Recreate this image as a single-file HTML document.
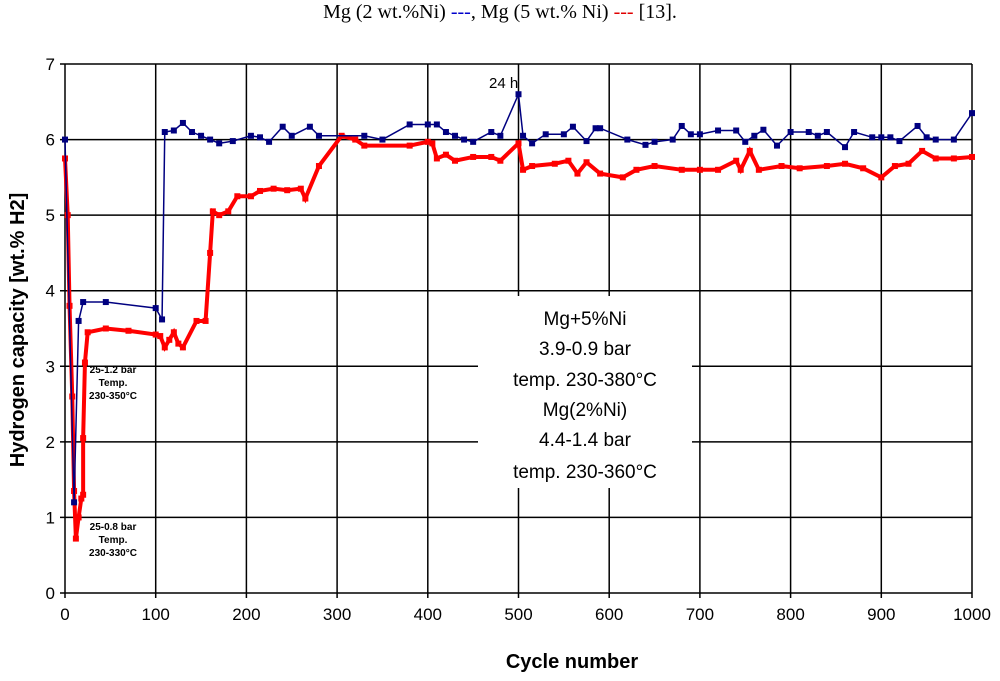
<!DOCTYPE html>
<html><head><meta charset="utf-8"><style>
body{margin:0;background:#fff;width:1000px;height:676px;overflow:hidden;font-family:"Liberation Sans",sans-serif}
</style></head><body>
<svg id="chart" width="1000" height="676" xmlns="http://www.w3.org/2000/svg">
<text x="500" y="18" text-anchor="middle" font-family="Liberation Serif,serif" font-size="20">Mg (2 wt.%Ni) <tspan fill="#0000cc">---</tspan>, Mg (5 wt.% Ni) <tspan fill="#e00000">---</tspan> [13].</text>
<g id="grid"></g>
<g id="series"></g>
<text x="489" y="88" font-size="15">24 h</text>
<g font-size="10" font-weight="bold" text-anchor="middle">
<text x="113" y="373">25-1.2 bar</text><text x="113" y="386">Temp.</text><text x="113" y="399">230-350°C</text></g>
<g font-size="10" font-weight="bold" text-anchor="middle">
<text x="113" y="530">25-0.8 bar</text><text x="113" y="543">Temp.</text><text x="113" y="556">230-330°C</text></g>
<rect x="478" y="296" width="214" height="192" fill="#fff"/>
<g font-size="19" text-anchor="middle">
<text x="585" y="325">Mg+5%Ni</text><text x="585" y="355">3.9-0.9 bar</text><text x="585" y="386">temp. 230-380°C</text>
<text x="585" y="416">Mg(2%Ni)</text><text x="585" y="446">4.4-1.4 bar</text><text x="585" y="478">temp. 230-360°C</text></g>
<text x="572" y="668" text-anchor="middle" font-size="20" font-weight="bold">Cycle number</text>
<text transform="translate(24,330) rotate(-90)" text-anchor="middle" font-size="20" font-weight="bold">Hydrogen capacity [wt.% H2]</text>
</svg>
<script>
const xTicks=[0,100,200,300,400,500,600,700,800,900,1000];
const yTicks=[0,1,2,3,4,5,6,7];
const blueX=[0,10,15,20,45,100,107,110,120,130,140,150,160,170,185,205,215,225,240,250,270,280,330,350,380,400,410,420,430,440,450,470,480,500,505,515,530,550,560,575,585,590,620,640,650,670,680,690,700,720,740,750,760,770,785,800,820,830,840,860,870,890,900,910,920,940,950,960,980,1000];
const blueY=[6.0,1.2,3.6,3.85,3.85,3.77,3.62,6.1,6.12,6.22,6.1,6.05,6.0,5.95,5.98,6.05,6.03,5.97,6.17,6.05,6.17,6.05,6.05,6.0,6.2,6.2,6.2,6.1,6.05,6.0,5.97,6.1,6.05,6.6,6.05,5.95,6.07,6.07,6.17,5.98,6.15,6.15,6.0,5.93,5.97,6.0,6.18,6.07,6.07,6.12,6.12,5.97,6.05,6.13,5.92,6.1,6.1,6.05,6.1,5.9,6.1,6.03,6.03,6.03,5.98,6.18,6.03,6.0,6.0,6.35];
const redX=[0,3,5,8,10,12,15,18,20,20,22,25,45,70,100,105,110,115,120,125,130,145,155,160,163,170,180,190,205,215,230,245,260,265,280,305,320,330,380,400,405,410,420,430,450,470,480,500,505,515,540,555,565,575,590,615,630,650,680,700,720,740,745,755,765,790,810,840,860,880,900,915,930,945,960,980,1000];
const redY=[5.75,5.0,3.8,2.6,1.35,0.72,1.0,1.25,1.3,2.05,3.05,3.45,3.5,3.47,3.42,3.4,3.25,3.35,3.45,3.3,3.25,3.6,3.6,4.5,5.05,5.0,5.05,5.25,5.25,5.32,5.35,5.33,5.35,5.22,5.65,6.05,6.0,5.92,5.92,5.97,5.95,5.75,5.8,5.72,5.77,5.77,5.72,5.95,5.6,5.65,5.68,5.72,5.55,5.7,5.55,5.5,5.6,5.65,5.6,5.6,5.6,5.72,5.6,5.85,5.6,5.65,5.62,5.65,5.68,5.62,5.5,5.65,5.68,5.85,5.75,5.75,5.77];
const X0=65,X1=972,Y0=593,Y1=64;
function sx(v){return X0+(X1-X0)*v/1000;}
function sy(v){return Y0-(Y0-Y1)*v/7;}
const NS="http://www.w3.org/2000/svg";
function mk(t,a,p){const e=document.createElementNS(NS,t);for(const k in a)e.setAttribute(k,a[k]);p.appendChild(e);return e;}
const grid=document.getElementById('grid');
xTicks.forEach(t=>{
  const l=mk('line',{x1:sx(t),x2:sx(t),y1:Y1,y2:Y0+5,stroke:'#000','stroke-width':1.5},grid);
  
  
  const tx=mk('text',{x:sx(t),y:Y0+27,'text-anchor':'middle','font-size':17},grid);
  tx.textContent=t;
  
  
});
yTicks.forEach(t=>{
  const l=mk('line',{x1:X0-5,x2:X1,y1:sy(t),y2:sy(t),stroke:'#000','stroke-width':1.5},grid);
  
  
  const tx=mk('text',{x:X0-10,y:sy(t)+6,'text-anchor':'end','font-size':17},grid);
  tx.textContent=t;
  
  
});
const ser=document.getElementById('series');
function draw(xs,ys,col,w,name,ms){
  const pts=xs.map((x,i)=>sx(x)+','+sy(ys[i])).join(' ');
  const pl=mk('polyline',{points:pts,fill:'none',stroke:col,'stroke-width':w},ser);
  
  
  xs.forEach((x,i)=>{
    const c=mk('rect',{x:sx(x)-ms/2,y:sy(ys[i])-ms/2,width:ms,height:ms,fill:col},ser);
    
    
  });
}
draw(redX,redY,'#ff0000',4,'mg-5ni',6);
draw(blueX,blueY,'#000080',1.5,'mg-2ni',6);
</script>
</body></html>
